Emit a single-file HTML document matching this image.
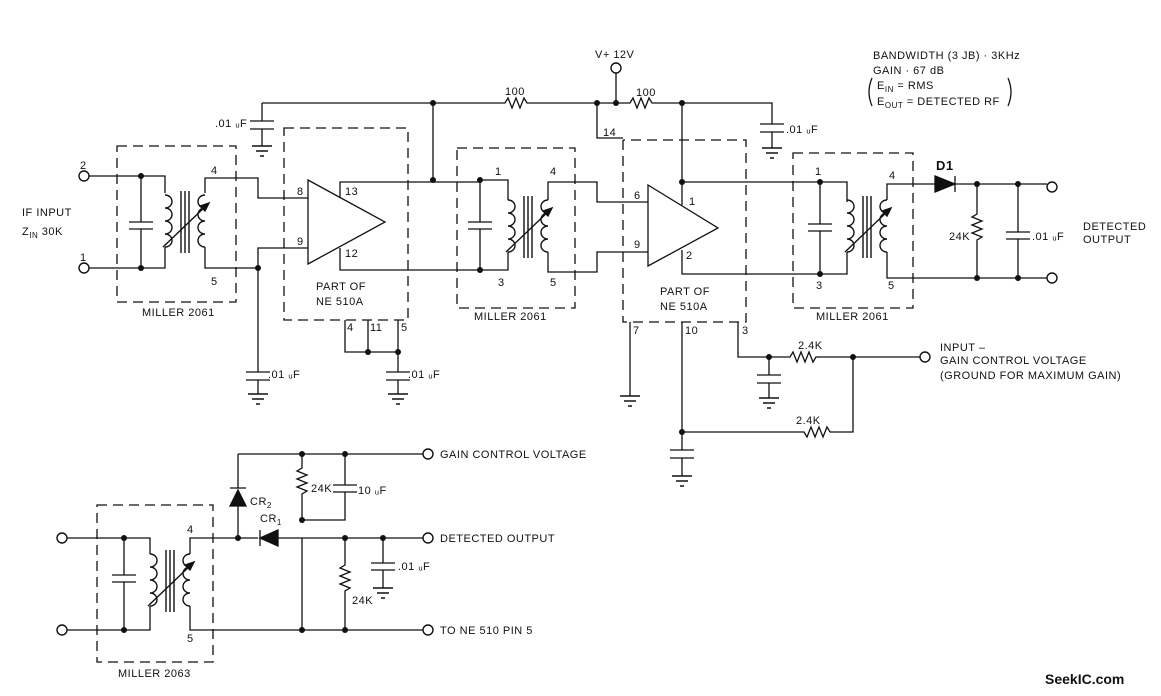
<!DOCTYPE html>
<html><head><meta charset="utf-8"><style>
html,body{margin:0;padding:0;background:#fff}
svg{display:block}
text{font-family:"Liberation Sans",sans-serif;font-size:11px;fill:#111;letter-spacing:0.5px}
</style></head><body>
<svg width="1161" height="696" viewBox="0 0 1161 696" xmlns="http://www.w3.org/2000/svg">
<defs>
<g id="xf" fill="none" stroke="#111" stroke-width="1.4">
<path d="M0,0 a7,6.5 0 0 1 0,13 a7,6.5 0 0 1 0,13 a7,6.5 0 0 1 0,13 a7,6.5 0 0 1 0,13"/>
<path d="M40,0 a7,6.5 0 0 0 0,13 a7,6.5 0 0 0 0,13 a7,6.5 0 0 0 0,13 a7,6.5 0 0 0 0,13"/>
<path d="M16,-4 V58 M20,-4 V58 M24,-4 V58"/>
<path d="M-2,52 L44,8"/>
<path d="M44,8 L35,11 L40,16 Z" fill="#111"/>
</g>
<g id="gnd" stroke="#111" stroke-width="1.5"><path d="M-10,0 H10 M-6,5 H6 M-2,10 H2"/></g>
<circle id="dot" r="3" fill="#111"/>
<circle id="term" r="5" fill="#fff" stroke="#111" stroke-width="1.4"/>
</defs>

<g fill="none" stroke="#111" stroke-width="1.3">
<g stroke-dasharray="10,6">
<rect x="117" y="146" width="119" height="156"/>
<rect x="284" y="128" width="124" height="192"/>
<rect x="457" y="148" width="118" height="160"/>
<path d="M623,140 V322 H746 V140 H623"/>
<rect x="793" y="153" width="120" height="155"/>
<rect x="97" y="505" width="116" height="157"/>
</g>
<path d="M262,103 H505 l3,-5 l4,10 l4,-10 l4,10 l4,-10 l3,5 H630 l3,-5 l4,10 l4,-10 l4,10 l4,-10 l3,5 H772 V124"/>
<path d="M616,73 V103"/>
<path d="M262,103 V121 M250,121 H274 M250,129 H274 M262,129 V146"/>
<path d="M760,124 H784 M760,132 H784 M772,132 V148"/>
<path d="M597,103 V138 H623"/>
<path d="M433,103 V180"/>
<path d="M89,176 H165 V193 M89,268 H165 V247 M141,176 V222 M129,222 H153 M129,229 H153 M141,229 V268"/>
<path d="M205,193 V178 H258 V198 H308 M205,247 V268 H258 V248 H308 M258,268 V372 M246,372 H270 M246,380 H270 M258,380 V394"/>
<path d="M308,180 L385,222 L308,264 Z"/>
<path d="M340,197 V182 H480 M340,248 V270 H480"/>
<path d="M345,320 V352 H398 V372 M368,320 V352 M398,320 V352 M386,372 H410 M386,380 H410 M398,380 V394"/>
<path d="M480,180 H508 V200 M480,270 H508 V252 M480,180 V222 M468,222 H492 M468,229 H492 M480,229 V270"/>
<path d="M548,200 V182 H597 V202 H648 M548,252 V272 H597 V252 H648"/>
<path d="M648,185 L718,228 L648,266 Z"/>
<path d="M682,103 V205 M682,182 H820 M682,250 V274 H820"/>
<path d="M630,322 V396 M682,322 V432 V450 M670,450 H694 M670,458 H694 M682,458 V476"/>
<path d="M738,322 V357 H790 l3,-5 l4,10 l4,-10 l4,10 l4,-10 l4,10 l3,-5 H920 M769,357 V375 M757,375 H781 M757,383 H781 M769,383 V398"/>
<path d="M853,357 V432 H830 l-3,-5 l-4,10 l-4,-10 l-4,10 l-4,-10 l-4,10 l-3,-5 H682"/>
<path d="M820,182 H847 V202 M820,274 H847 V252 M820,182 V224 M808,224 H832 M808,231 H832 M820,231 V274"/>
<path d="M887,200 V184 H935 M955,184 H1047 M887,252 V278 H1047"/>
<path d="M935,176 V192 L955,184 Z M955,176 V192" fill="#111"/>
<path d="M977,184 V214 l-5,3 l10,4 l-10,4 l10,4 l-10,4 l10,4 l-5,3 V278"/>
<path d="M1018,184 V232 M1006,232 H1030 M1006,239 H1030 M1018,239 V278"/>
<path d="M67,538 H150 V554 M67,630 H150 V606 M124,538 V575 M112,575 H136 M112,582 H136 M124,582 V630"/>
<path d="M190,554 V538 H258 M190,606 V630 H423"/>
<path d="M278,530 V546 L260,538 Z M260,530 V546" fill="#111"/>
<path d="M278,538 H423"/>
<path d="M238,538 V506 M238,454 V488 M238,454 H423"/>
<path d="M230,506 H246 L238,490 Z M230,488 H246" fill="#111"/>
<path d="M302,454 V468 l-5,3 l10,4 l-10,4 l10,4 l-10,4 l10,4 l-5,3 V520 H345 V492 M345,454 V485 M333,485 H357 M333,492 H357"/>
<path d="M302,538 V630 M345,538 V565 l-5,3 l10,4 l-10,4 l10,4 l-10,4 l10,4 l-5,3 V630"/>
<path d="M383,538 V563 M371,563 H395 M371,570 H395 M383,570 V588"/>
<path d="M872,78 q-6,14 0,28 M1008,78 q6,14 0,28"/>
</g>
<use href="#gnd" x="262" y="146"/><use href="#gnd" x="772" y="148"/>
<use href="#gnd" x="258" y="394"/><use href="#gnd" x="398" y="394"/>
<use href="#gnd" x="630" y="396"/><use href="#gnd" x="682" y="476"/>
<use href="#gnd" x="769" y="398"/><use href="#gnd" x="383" y="588"/>
<use href="#xf" x="165" y="195"/><use href="#xf" x="508" y="200"/>
<use href="#xf" x="847" y="200"/><use href="#xf" x="150" y="554"/>
<g>
<use href="#dot" x="433" y="103"/><use href="#dot" x="597" y="103"/><use href="#dot" x="616" y="103"/><use href="#dot" x="682" y="103"/>
<use href="#dot" x="141" y="176"/><use href="#dot" x="141" y="268"/><use href="#dot" x="258" y="268"/><use href="#dot" x="433" y="180"/>
<use href="#dot" x="480" y="180"/><use href="#dot" x="480" y="270"/><use href="#dot" x="682" y="182"/>
<use href="#dot" x="368" y="352"/><use href="#dot" x="398" y="352"/>
<use href="#dot" x="820" y="182"/><use href="#dot" x="820" y="274"/>
<use href="#dot" x="977" y="184"/><use href="#dot" x="1018" y="184"/><use href="#dot" x="977" y="278"/><use href="#dot" x="1018" y="278"/>
<use href="#dot" x="769" y="357"/><use href="#dot" x="853" y="357"/><use href="#dot" x="682" y="432"/>
<use href="#dot" x="124" y="538"/><use href="#dot" x="124" y="630"/><use href="#dot" x="238" y="538"/>
<use href="#dot" x="302" y="454"/><use href="#dot" x="345" y="454"/><use href="#dot" x="302" y="520"/>
<use href="#dot" x="345" y="538"/><use href="#dot" x="383" y="538"/><use href="#dot" x="302" y="630"/><use href="#dot" x="345" y="630"/>
<use href="#term" x="84" y="176"/><use href="#term" x="84" y="268"/><use href="#term" x="616" y="68"/>
<use href="#term" x="1052" y="187"/><use href="#term" x="1052" y="278"/><use href="#term" x="925" y="357"/>
<use href="#term" x="62" y="538"/><use href="#term" x="62" y="630"/>
<use href="#term" x="428" y="454"/><use href="#term" x="428" y="538"/><use href="#term" x="428" y="630"/>
</g>

<text x="80" y="169">2</text><text x="80" y="261">1</text>
<text x="22" y="216">IF INPUT</text><text x="22" y="235">Z<tspan font-size="8" dy="3">IN</tspan><tspan dy="-3"> 30K</tspan></text>
<text x="211" y="174">4</text><text x="211" y="285">5</text>
<text x="142" y="316">MILLER 2061</text>
<text x="215" y="127">.01 ᵤF</text>
<text x="297" y="195">8</text><text x="297" y="245">9</text><text x="345" y="195">13</text><text x="345" y="257">12</text>
<text x="316" y="290">PART OF</text><text x="316" y="305">NE 510A</text>
<text x="347" y="331">4</text><text x="370" y="331">11</text><text x="401" y="331">5</text>
<text x="268" y="378">.01 ᵤF</text><text x="408" y="378">.01 ᵤF</text>
<text x="505" y="95">100</text><text x="636" y="96">100</text>
<text x="595" y="58">V+ 12V</text>
<text x="603" y="136">14</text>
<text x="786" y="133">.01 ᵤF</text>
<text x="495" y="175">1</text><text x="550" y="175">4</text><text x="498" y="286">3</text><text x="550" y="286">5</text>
<text x="474" y="320">MILLER 2061</text>
<text x="634" y="199">6</text><text x="634" y="248">9</text><text x="689" y="205">1</text><text x="686" y="259">2</text>
<text x="660" y="295">PART OF</text><text x="660" y="310">NE 510A</text>
<text x="633" y="334">7</text><text x="685" y="334">10</text><text x="742" y="334">3</text>
<text x="873" y="59">BANDWIDTH (3 JB) · 3KHz</text>
<text x="873" y="74">GAIN · 67 dB</text>
<text x="877" y="89">E<tspan font-size="8" dy="3">IN</tspan><tspan dy="-3"> = RMS</tspan></text>
<text x="877" y="105">E<tspan font-size="8" dy="3">OUT</tspan><tspan dy="-3"> = DETECTED RF</tspan></text>
<text x="936" y="170" style="font-weight:bold;font-size:13px">D1</text>
<text x="815" y="175">1</text><text x="889" y="179">4</text><text x="816" y="289">3</text><text x="888" y="289">5</text>
<text x="816" y="320">MILLER 2061</text>
<text x="949" y="240">24K</text><text x="1032" y="240">.01 ᵤF</text>
<text x="1083" y="230">DETECTED</text><text x="1083" y="243">OUTPUT</text>
<text x="798" y="349">2.4K</text><text x="796" y="424">2.4K</text>
<text x="940" y="351">INPUT –</text>
<text x="940" y="364">GAIN CONTROL VOLTAGE</text>
<text x="940" y="379">(GROUND FOR MAXIMUM GAIN)</text>
<text x="440" y="458">GAIN CONTROL VOLTAGE</text>
<text x="440" y="542">DETECTED OUTPUT</text>
<text x="440" y="634">TO NE 510 PIN 5</text>
<text x="250" y="505">CR<tspan font-size="8" dy="3">2</tspan></text>
<text x="260" y="522">CR<tspan font-size="8" dy="3">1</tspan></text>
<text x="311" y="492">24K</text><text x="358" y="494">10 ᵤF</text>
<text x="352" y="604">24K</text><text x="398" y="570">.01 ᵤF</text>
<text x="187" y="533">4</text><text x="187" y="642">5</text>
<text x="118" y="677">MILLER 2063</text>
<text x="1045" y="684" style="font-weight:bold;font-size:14px;letter-spacing:0">SeekIC.com</text>
</svg>
</body></html>
